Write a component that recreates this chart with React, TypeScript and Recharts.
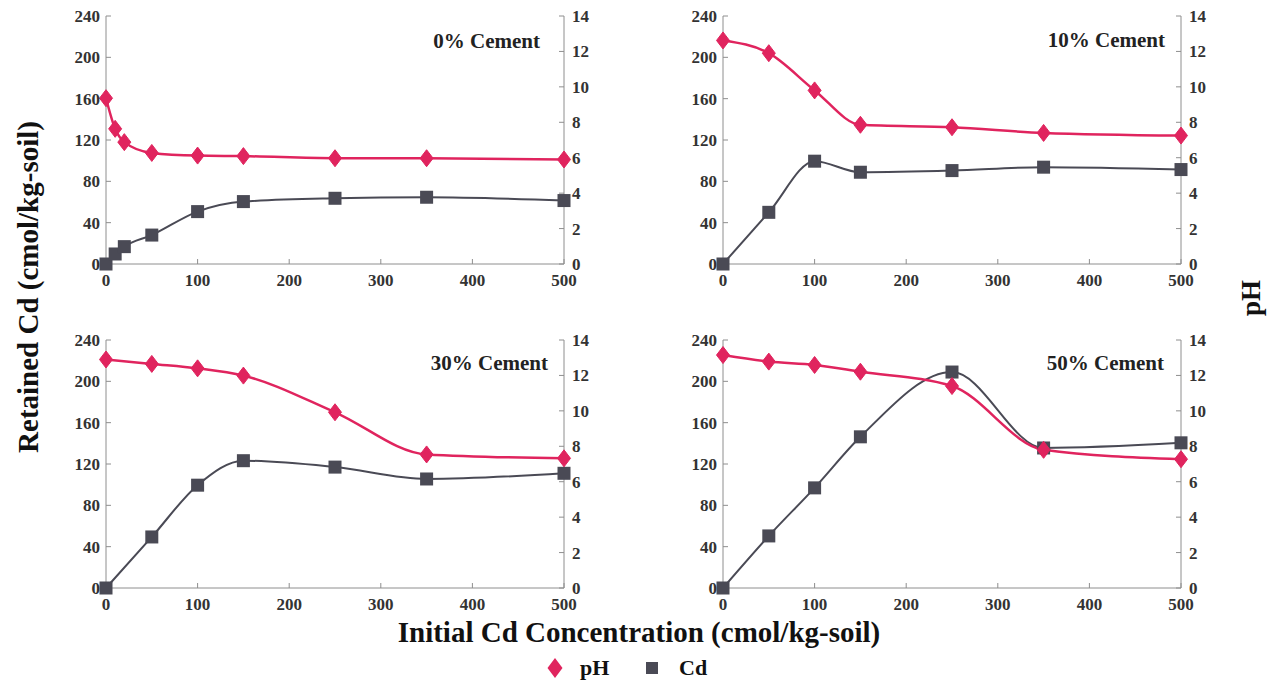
import React from 'react';
import { LineChart, Line, XAxis, YAxis } from 'recharts';

const FONT = "'Liberation Serif', 'Times New Roman', serif";
const PH_COLOR = '#E0245E';
const CD_COLOR = '#4A4A55';
const AXIS_COLOR = '#8E8E8E';

const xTicks = [0, 100, 200, 300, 400, 500];
const cdTicks = [0, 40, 80, 120, 160, 200, 240];
const phTicks = [0, 2, 4, 6, 8, 10, 12, 14];

// 0% cement
const conc0 = [0, 10, 20, 50, 100, 150, 250, 350, 500];
const cd0 = [0, 9.7, 16.8, 28, 50.7, 60.4, 63.6, 64.6, 61.4];
const ph0 = [9.36, 7.63, 6.88, 6.27, 6.12, 6.09, 5.97, 5.97, 5.9];

// 10%, 30%, 50% cement
const conc = [0, 50, 100, 150, 250, 350, 500];
const cd10 = [0, 50, 99.5, 88.8, 90.4, 93.7, 91.4];
const ph10 = [12.62, 11.9, 9.8, 7.86, 7.72, 7.4, 7.25];
const cd30 = [0, 49.4, 99.5, 123.2, 117, 105.5, 111];
const ph30 = [12.9, 12.65, 12.4, 11.99, 9.92, 7.54, 7.32];
const cd50 = [0, 50.4, 96.9, 146.3, 209, 135.5, 140.5];
const ph50 = [13.15, 12.78, 12.59, 12.21, 11.4, 7.8, 7.27];

const build = (xs: number[], cd: number[], ph: number[]) =>
  xs.map((x, i) => ({ x, cd: cd[i], ph: ph[i] }));

const Tick = (props: any) => {
  const { x, y, payload, textAnchor, verticalAnchor } = props;
  const dy = verticalAnchor === 'start' ? '0.71em' : verticalAnchor === 'end' ? '0' : '0.35em';
  return (
    <text
      x={x}
      y={y}
      dy={dy}
      textAnchor={textAnchor}
      fill="#333"
      fontSize={17}
      fontWeight={700}
      fontFamily={FONT}
    >
      {payload.value}
    </text>
  );
};

const Diamond = (props: any) => {
  const { cx, cy, index } = props;
  if (cx == null || cy == null) return <g key={'d' + index} />;
  return (
    <path
      key={'d' + index}
      d={`M${cx},${cy - 8.5} L${cx + 6.5},${cy} L${cx},${cy + 8.5} L${cx - 6.5},${cy} Z`}
      fill={PH_COLOR}
      stroke={PH_COLOR}
      strokeWidth={1}
    />
  );
};

const Square = (props: any) => {
  const { cx, cy, index } = props;
  if (cx == null || cy == null) return <g key={'s' + index} />;
  return <rect key={'s' + index} x={cx - 6.5} y={cy - 6.5} width={13} height={13} fill={CD_COLOR} />;
};

type PanelProps = {
  data: { x: number; cd: number; ph: number }[];
  left: number;
  top: number;
  label: string;
  labelRight: number;
  labelBaseline: number;
};

const MT = 14;

const Panel = ({ data, left, top, label, labelRight, labelBaseline }: PanelProps) => (
  <>
    <div style={{ position: 'absolute', left: left - 46, top: top - MT }}>
      <LineChart width={548} height={248 + MT + 32} data={data} margin={{ top: MT, right: 4, bottom: 2, left: 0 }}>
        <XAxis
          xAxisId="b"
          dataKey="x"
          type="number"
          domain={[0, 500]}
          ticks={xTicks}
          interval={0}
          orientation="bottom"
          height={30}
          tickSize={-5}
          tickMargin={15}
          stroke={AXIS_COLOR}
          tick={<Tick />}
        />
        <XAxis
          xAxisId="t"
          dataKey="x"
          type="number"
          domain={[0, 500]}
          ticks={xTicks}
          interval={0}
          orientation="top"
          height={0}
          tickSize={-5}
          tick={false}
          stroke={AXIS_COLOR}
        />
        <YAxis
          yAxisId="l"
          type="number"
          domain={[0, 240]}
          ticks={cdTicks}
          interval={0}
          width={46}
          tickSize={-5}
          tickMargin={11}
          stroke={AXIS_COLOR}
          tick={<Tick />}
        />
        <YAxis
          yAxisId="r"
          type="number"
          orientation="right"
          domain={[0, 14]}
          ticks={phTicks}
          interval={0}
          width={40}
          tickSize={-5}
          tickMargin={13}
          stroke={AXIS_COLOR}
          tick={<Tick />}
        />
        <Line
          xAxisId="b"
          yAxisId="l"
          dataKey="cd"
          type="monotone"
          stroke={CD_COLOR}
          strokeWidth={2}
          dot={Square}
          activeDot={false}
          isAnimationActive={false}
        />
        <Line
          xAxisId="b"
          yAxisId="r"
          dataKey="ph"
          type="monotone"
          stroke={PH_COLOR}
          strokeWidth={2.5}
          dot={Diamond}
          activeDot={false}
          isAnimationActive={false}
        />
      </LineChart>
    </div>
    <div
      style={{
        position: 'absolute',
        right: 1276 - labelRight,
        top: labelBaseline - 17,
        fontFamily: FONT,
        fontWeight: 700,
        fontSize: 21,
        lineHeight: '21px',
        color: '#222',
        whiteSpace: 'nowrap',
      }}
    >
      {label}
    </div>
  </>
);

export default function App() {
  return (
    <div style={{ position: 'absolute', left: 0, top: 0, width: 1276, height: 682, background: '#fff', overflow: 'hidden' }}>
      <Panel data={build(conc0, cd0, ph0)} left={106} top={16} label="0% Cement" labelRight={540} labelBaseline={48} />
      <Panel data={build(conc, cd10, ph10)} left={723} top={16} label="10% Cement" labelRight={1165} labelBaseline={47} />
      <Panel data={build(conc, cd30, ph30)} left={106} top={340} label="30% Cement" labelRight={548} labelBaseline={370} />
      <Panel data={build(conc, cd50, ph50)} left={723} top={340} label="50% Cement" labelRight={1164} labelBaseline={370} />
      <svg width={1276} height={682} style={{ position: 'absolute', left: 0, top: 0, pointerEvents: 'none' }}>
        <text
          x={38}
          y={287}
          transform="rotate(-90 38 287)"
          textAnchor="middle"
          fontFamily={FONT}
          fontWeight={700}
          fontSize={29}
          fill="#111"
        >
          Retained Cd (cmol/kg-soil)
        </text>
        <text
          x={1260}
          y={298}
          transform="rotate(-90 1260 298)"
          textAnchor="middle"
          fontFamily={FONT}
          fontWeight={700}
          fontSize={27}
          fill="#111"
        >
          pH
        </text>
        <text x={639} y={642} textAnchor="middle" fontFamily={FONT} fontWeight={700} fontSize={29} fill="#111">
          Initial Cd Concentration (cmol/kg-soil)
        </text>
        <path d="M555,658 L562.5,668 L555,678 L547.5,668 Z" fill={PH_COLOR} />
        <text x={580} y={675} fontFamily={FONT} fontWeight={700} fontSize={22} fill="#111">
          pH
        </text>
        <rect x={646} y={662} width={12} height={12} fill={CD_COLOR} />
        <text x={679} y={675} fontFamily={FONT} fontWeight={700} fontSize={22} fill="#111">
          Cd
        </text>
      </svg>
    </div>
  );
}
